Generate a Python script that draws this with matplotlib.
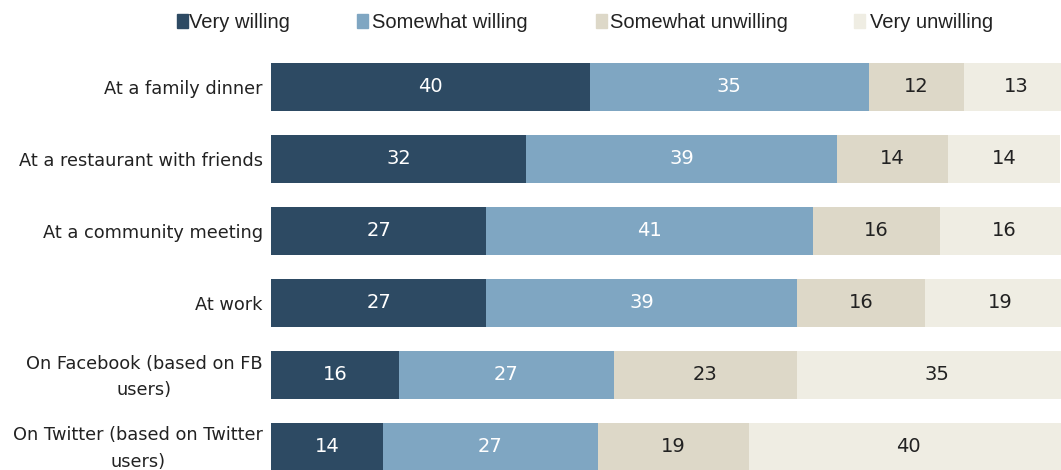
"""
Willingness to discuss an issue, by setting (stacked horizontal bars).
"""

import numpy as np
import matplotlib
matplotlib.use("Agg")
from matplotlib import pyplot as plt
from matplotlib.patches import Rectangle
from matplotlib.transforms import ScaledTranslation

categories = ["At a family dinner",
              "At a restaurant with friends",
              "At a community meeting",
              "At work",
              "On Facebook (based on FB\nusers)",
              "On Twitter (based on Twitter\nusers)"]
very_willing = [40, 32, 27, 27, 16, 14]
somewhat_willing = [35, 39, 41, 39, 27, 27]
somewhat_unwilling = [12, 14, 16, 16, 23, 19]
very_unwilling = [13, 14, 16, 19, 35, 40]

series_names = ["Very willing", "Somewhat willing", "Somewhat unwilling", "Very unwilling"]
colors = ["#2d4a63", "#7fa6c2", "#ddd8c8", "#efede3"]
text_colors = ["white", "white", "#222222", "#222222"]

plt.rcParams['font.family'] = ['DejaVu Sans']

W, H = 1061, 470
fig = plt.figure(figsize=(W / 100, H / 100), dpi=100)

# axes placed in pixel terms: bars start at x=271, run off the right edge
left_px = 271
ax = fig.add_axes([left_px / W, 0, 1 - left_px / W, 430 / H])
px_per_unit = 7.97
ax.set_xlim(0, (W - left_px) / px_per_unit)
pitch = 71.9
ax.set_ylim((470 - 87) / pitch, (40 - 87) / pitch)

ypos = np.arange(len(categories))
bar_h = 48 / pitch
data = [very_willing, somewhat_willing, somewhat_unwilling, very_unwilling]
left = np.zeros(len(categories))
for vals, c, tc in zip(data, colors, text_colors):
    vals = np.array(vals)
    ax.barh(ypos, vals, left=left, height=bar_h, color=c, edgecolor='none')
    for y, l, v in zip(ypos, left, vals):
        ax.text(l + v / 2, y, str(v), ha='center', va='center',
                color=tc, fontsize=14)
    left = left + vals

ax.set_yticks(ypos)
ax.set_yticklabels(categories, fontsize=12.8, color='#222222',
                   linespacing=1.6)
ax.tick_params(axis='y', length=0, pad=6)
# two-line labels sit a little higher in the original
up = ScaledTranslation(0, 4 / 100, fig.dpi_scale_trans)
for lab in ax.get_yticklabels():
    lab.set_multialignment('center')
    if "\n" in lab.get_text():
        lab.set_transform(lab.get_transform() + up)
ax.set_xticks([])
for s in ax.spines.values():
    s.set_visible(False)

# legend across the top
sq_x = [177, 357, 596, 854]
txt_x = [189, 372, 610, 870]
for sx, tx, name, c in zip(sq_x, txt_x, series_names, colors):
    fig.patches.append(Rectangle((sx / W, 1 - 28 / H), 11 / W, 14 / H,
                                 transform=fig.transFigure, color=c))
    fig.text(tx / W, 1 - 22 / H, name, fontsize=14.5, va='center',
             ha='left', color='#222222', family='Liberation Sans')

plt.savefig("out.png", dpi=100)
